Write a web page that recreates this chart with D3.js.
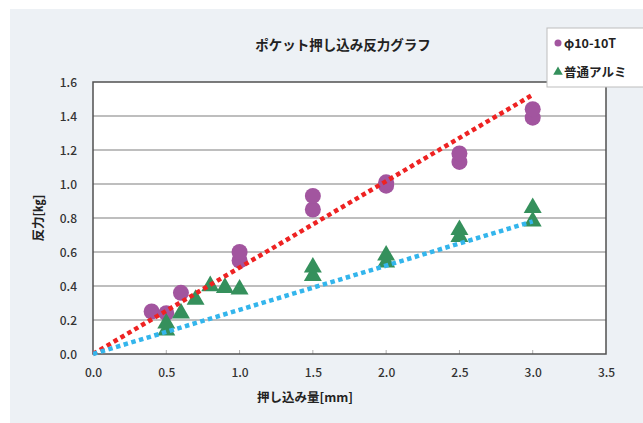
<!DOCTYPE html>
<html><head><meta charset="utf-8">
<script src="https://cdn.jsdelivr.net/npm/d3@7/dist/d3.min.js"></script>
<style>body{margin:0;background:#fff}svg{display:block}text{font-family:"Noto Sans CJK JP","Noto Sans",sans-serif}</style>
</head><body><svg id="c" width="643" height="423"></svg>
<script>
const title = "ポケット押し込み反力グラフ";
const xTitle = "押し込み量[mm]";
const yTitle = "反力[㎏]";
const seriesNames = ["φ10-10T", "普通アルミ"];
const xTicks = [0, 0.5, 1.0, 1.5, 2.0, 2.5, 3.0, 3.5];
const yTicks = [0, 0.2, 0.4, 0.6, 0.8, 1.0, 1.2, 1.4, 1.6];
const aX = [0.4, 0.5, 0.6, 1.0, 1.0, 1.5, 1.5, 2.0, 2.0, 2.5, 2.5, 3.0, 3.0];
const aY = [0.25, 0.24, 0.36, 0.55, 0.60, 0.85, 0.93, 0.99, 1.01, 1.13, 1.18, 1.39, 1.44];
const bX = [0.5, 0.5, 0.6, 0.7, 0.8, 0.9, 1.0, 1.5, 1.5, 2.0, 2.0, 2.5, 2.5, 3.0, 3.0];
const bY = [0.14, 0.18, 0.24, 0.32, 0.40, 0.39, 0.38, 0.46, 0.51, 0.54, 0.58, 0.69, 0.73, 0.78, 0.86];
const trendA = [[0, 0], [3.0, 1.525]];
const trendB = [[0, 0], [3.0, 0.78]];

const svg = d3.select("#c");
svg.append("rect").attr("x", 10).attr("y", 9).attr("width", 640).attr("height", 420).attr("fill", "#edf1f5");

const L = 93, R = 606, T = 82, B = 354;
const x = d3.scaleLinear().domain([0, 3.5]).range([L, R]);
const y = d3.scaleLinear().domain([0, 1.6]).range([B, T]);

svg.append("rect").attr("x", L).attr("y", T).attr("width", R - L).attr("height", B - T).attr("fill", "#fff");
svg.append("g").selectAll("line").data(yTicks.filter(d => d > 0 && d < 1.6)).join("line")
  .attr("x1", L).attr("x2", R).attr("y1", d => y(d)).attr("y2", d => y(d))
  .attr("stroke", "#a8a8a8").attr("stroke-width", 1.5);
svg.append("g").selectAll("line").data(xTicks.slice(1, -1)).join("line")
  .attr("x1", d => x(d)).attr("x2", d => x(d)).attr("y1", B).attr("y2", B - 4)
  .attr("stroke", "#b0b0b0").attr("stroke-width", 1);
svg.append("rect").attr("x", L).attr("y", T).attr("width", R - L).attr("height", B - T)
  .attr("fill", "none").attr("stroke", "#505050").attr("stroke-width", 1.5);

const yAxis = d3.axisLeft(y).tickValues(yTicks).tickFormat(d3.format(".1f")).tickSize(0).tickPadding(16);
const gy = svg.append("g").attr("transform", `translate(${L},0)`).call(yAxis);
gy.select(".domain").remove();
gy.selectAll("text").attr("font-size", 12).attr("fill", "#333").attr("font-weight", 500).attr("dy", "0.35em");
const xAxis = d3.axisBottom(x).tickValues(xTicks).tickFormat(d3.format(".1f")).tickSize(0).tickPadding(14);
const gx = svg.append("g").attr("transform", `translate(0,${B})`).call(xAxis);
gx.select(".domain").remove();
gx.selectAll("text").attr("font-size", 12).attr("fill", "#333").attr("font-weight", 500);

const colA = "#a2559f", colB = "#35905c";
svg.append("g").selectAll("circle").data(aX.map((v, i) => [v, aY[i]])).join("circle")
  .attr("cx", d => x(d[0])).attr("cy", d => y(d[1])).attr("r", 8).attr("fill", colA);
const tri = d3.symbol().type(d3.symbolTriangle).size(140);
svg.append("g").selectAll("path").data(bX.map((v, i) => [v, bY[i]])).join("path")
  .attr("d", tri).attr("transform", d => `translate(${x(d[0])},${y(d[1])})`).attr("fill", colB);

const line = d3.line().x(d => x(d[0])).y(d => y(d[1]));
svg.append("path").attr("d", line(trendA)).attr("stroke", "#ee2222").attr("stroke-width", 4.5)
  .attr("stroke-dasharray", "4.5,3.5").attr("fill", "none");
svg.append("path").attr("d", line(trendB)).attr("stroke", "#33b5ec").attr("stroke-width", 4.5)
  .attr("stroke-dasharray", "4.5,3.5").attr("fill", "none");

svg.append("text").attr("x", 343).attr("y", 50).attr("text-anchor", "middle").attr("font-size", 13.5)
  .attr("font-weight", 600).attr("fill", "#222").text(title);
svg.append("text").attr("x", 305).attr("y", 402).attr("text-anchor", "middle").attr("font-size", 12.5)
  .attr("font-weight", 600).attr("fill", "#222").text(xTitle);
svg.append("text").attr("transform", "translate(43,218) rotate(-90)").attr("text-anchor", "middle")
  .attr("font-size", 12.5).attr("font-weight", 600).attr("fill", "#222").text(yTitle);

svg.append("rect").attr("x", 547).attr("y", 28).attr("width", 110).attr("height", 59)
  .attr("fill", "#fff").attr("stroke", "#bdbdbd").attr("stroke-width", 1);
svg.append("circle").attr("cx", 558).attr("cy", 43).attr("r", 3.5).attr("fill", colA);
svg.append("path").attr("d", d3.symbol().type(d3.symbolTriangle).size(40)).attr("transform", "translate(558,72)").attr("fill", colB);
svg.append("text").attr("x", 564).attr("y", 48).attr("font-size", 12.5).attr("font-weight", 600).attr("fill", "#222").text(seriesNames[0]);
svg.append("text").attr("x", 564).attr("y", 77).attr("font-size", 12.5).attr("font-weight", 600).attr("fill", "#222").text(seriesNames[1]);
</script></body></html>
